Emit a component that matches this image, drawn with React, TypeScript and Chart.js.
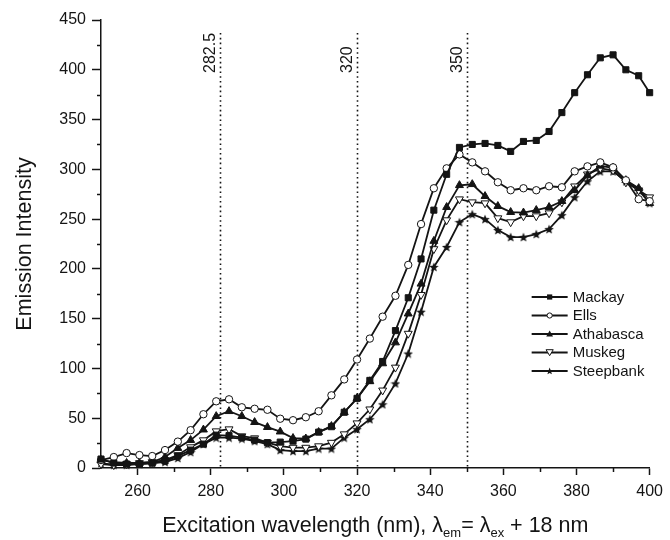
import React, { useEffect, useRef } from 'react';
import { Chart, registerables } from 'chart.js';

Chart.register(...registerables);

// ---------- data ----------
const wavelengths = [
  250, 253.5, 257, 260.5, 264, 267.5, 271, 274.5, 278, 281.5,
  285, 288.5, 292, 295.5, 299, 302.5, 306, 309.5, 313, 316.5,
  320, 323.5, 327, 330.5, 334, 337.5, 341, 344.5, 348, 351.5,
  355, 358.5, 362, 365.5, 369, 372.5, 376, 379.5, 383, 386.5,
  390, 393.5, 397, 400,
];

const mackay = [
  9, 5, 4, 4, 5, 7, 12, 18, 24, 33,
  32.5, 30.5, 28, 25.5, 26, 27, 29, 36, 41.5, 56,
  70, 88, 107, 138, 171, 210, 259, 295, 322, 325,
  326, 324, 318, 328, 329, 338, 357, 377, 395, 412,
  415, 400, 394, 377,
];

const ells = [
  8, 11, 15, 13, 12, 18, 26.5, 38, 54, 67,
  69, 61, 59.5, 58.5, 49.5, 48, 51, 57, 73, 89,
  109, 130, 152, 173, 204, 245, 281, 301, 315, 307,
  298, 287, 279, 281, 279, 283, 282, 298, 303, 307,
  302, 289, 270, 268,
];

const athabasca = [
  8, 6, 5, 5, 6, 11, 20, 28, 38.5, 52,
  57, 52, 46, 41, 36.5, 30, 29.5, 36, 42, 56,
  70, 87, 105, 126, 155, 185, 228, 262, 284, 285,
  273, 263, 257, 256.5, 259, 262, 268, 279, 294, 303.5,
  301.5, 289, 281, 266,
];

const muskeg = [
  4, 3, 4, 5, 6, 8, 13, 21, 28, 37,
  39, 32, 30, 25.5, 22, 20.5, 20.5, 22, 25.5, 34,
  45, 59, 78, 101, 135, 174, 220, 249, 270, 267,
  266, 251, 247, 253, 253, 256, 267, 283, 295, 301,
  299, 287, 279, 272,
];

const steepbank = [
  5, 3, 3, 4, 5, 6, 10, 16, 24, 30.5,
  30.5, 29.5, 27, 24, 18, 17, 17, 19.5, 19.5, 30.5,
  39, 49, 64, 85, 115, 157, 202, 222, 247, 255,
  250, 239, 232, 232, 235, 240, 254, 272, 288, 298,
  298, 288, 279, 266,
];

const seriesNames = ['Mackay', 'Ells', 'Athabasca', 'Muskeg', 'Steepbank'];

const xTickValues = [260, 280, 300, 320, 340, 360, 380, 400];
const xMinorTickValues = [270, 290, 310, 330, 350, 370, 390];
const yTickValues = [0, 50, 100, 150, 200, 250, 300, 350, 400, 450];
const yMinorTickValues = [25, 75, 125, 175, 225, 275, 325, 375, 425];

const refLineValues = [282.5, 320, 350];
const refLineLabels = ['282.5', '320', '350'];

const yTitle = 'Emission Intensity';
const xTitleParts: { text: string; sub: boolean }[] = [
  { text: 'Excitation wavelength (nm), λ', sub: false },
  { text: 'em', sub: true },
  { text: '= λ', sub: false },
  { text: 'ex', sub: true },
  { text: ' + 18 nm', sub: false },
];

// ---------- styling ----------
const INK = '#141414';
const FONT = '"Liberation Sans", Arial, Helvetica, sans-serif';

function starPath(ctx: CanvasRenderingContext2D, cx: number, cy: number, outer: number, inner: number) {
  ctx.beginPath();
  for (let i = 0; i < 10; i++) {
    const r = i % 2 === 0 ? outer : inner;
    const a = -Math.PI / 2 + (i * Math.PI) / 5;
    const px = cx + r * Math.cos(a);
    const py = cy + r * Math.sin(a);
    if (i === 0) ctx.moveTo(px, py);
    else ctx.lineTo(px, py);
  }
  ctx.closePath();
}

function makeStarCanvas(size: number) {
  const c = document.createElement('canvas');
  c.width = size;
  c.height = size;
  const ctx = c.getContext('2d')!;
  ctx.fillStyle = INK;
  starPath(ctx, size / 2, size / 2 + 0.5, size / 2, size / 4.6);
  ctx.fill();
  return c;
}

type MarkerKind = 'square' | 'circle' | 'triangle' | 'triangleDown' | 'star';
const markerKinds: MarkerKind[] = ['square', 'circle', 'triangle', 'triangleDown', 'star'];

function drawLegendMarker(ctx: CanvasRenderingContext2D, kind: MarkerKind, x: number, y: number) {
  ctx.save();
  ctx.lineWidth = 1;
  ctx.strokeStyle = INK;
  ctx.fillStyle = INK;
  if (kind === 'square') {
    ctx.fillRect(x - 2.6, y - 2.6, 5.2, 5.2);
  } else if (kind === 'circle') {
    ctx.beginPath();
    ctx.arc(x, y, 2.6, 0, Math.PI * 2);
    ctx.fillStyle = '#fff';
    ctx.fill();
    ctx.stroke();
  } else if (kind === 'triangle') {
    ctx.beginPath();
    ctx.moveTo(x, y - 3.4);
    ctx.lineTo(x + 3.4, y + 2.6);
    ctx.lineTo(x - 3.4, y + 2.6);
    ctx.closePath();
    ctx.fill();
  } else if (kind === 'triangleDown') {
    ctx.beginPath();
    ctx.moveTo(x, y + 3.2);
    ctx.lineTo(x + 3.6, y - 2.8);
    ctx.lineTo(x - 3.6, y - 2.8);
    ctx.closePath();
    ctx.fillStyle = '#fff';
    ctx.fill();
    ctx.stroke();
  } else {
    starPath(ctx, x, y + 0.3, 3.8, 1.6);
    ctx.fill();
  }
  ctx.restore();
}

const decorPlugin = {
  id: 'decor',
  beforeDatasetsDraw(chart: any) {
    const { ctx, chartArea, scales } = chart;
    const xs = scales.x;
    ctx.save();
    ctx.strokeStyle = INK;
    ctx.lineWidth = 1.6;
    ctx.setLineDash([1.6, 3.2]);
    refLineValues.forEach((v) => {
      const px = Math.round(xs.getPixelForValue(v)) + 0.5;
      ctx.beginPath();
      ctx.moveTo(px, chartArea.top + 13);
      ctx.lineTo(px, chartArea.bottom);
      ctx.stroke();
    });
    ctx.setLineDash([]);
    ctx.fillStyle = INK;
    ctx.font = `16px ${FONT}`;
    ctx.textAlign = 'left';
    ctx.textBaseline = 'alphabetic';
    refLineValues.forEach((v, i) => {
      const px = xs.getPixelForValue(v);
      ctx.save();
      ctx.translate(px - 5, chartArea.top + 53);
      ctx.rotate(-Math.PI / 2);
      ctx.fillText(refLineLabels[i], 0, 0);
      ctx.restore();
    });
    ctx.restore();
  },
  afterDraw(chart: any) {
    const { ctx, chartArea, scales } = chart;
    const xs = scales.x;
    const ys = scales.y;
    ctx.save();
    // minor ticks
    ctx.strokeStyle = INK;
    ctx.lineWidth = 1.5;
    xMinorTickValues.forEach((v) => {
      const px = Math.round(xs.getPixelForValue(v)) + 0.5;
      ctx.beginPath();
      ctx.moveTo(px, chartArea.bottom);
      ctx.lineTo(px, chartArea.bottom + 4);
      ctx.stroke();
    });
    yMinorTickValues.forEach((v) => {
      const py = Math.round(ys.getPixelForValue(v)) + 0.5;
      ctx.beginPath();
      ctx.moveTo(chartArea.left, py);
      ctx.lineTo(chartArea.left - 4, py);
      ctx.stroke();
    });

    // y title
    ctx.fillStyle = INK;
    ctx.font = `21.5px ${FONT}`;
    ctx.save();
    ctx.translate(25, (chartArea.top + chartArea.bottom) / 2);
    ctx.rotate(-Math.PI / 2);
    ctx.textAlign = 'center';
    ctx.textBaseline = 'middle';
    ctx.fillText(yTitle, 0, 0);
    ctx.restore();

    // x title with subscripts
    const mainFont = `21.5px ${FONT}`;
    const subFont = `13px ${FONT}`;
    let total = 0;
    const widths = xTitleParts.map((p) => {
      ctx.font = p.sub ? subFont : mainFont;
      const w = ctx.measureText(p.text).width;
      total += w;
      return w;
    });
    let cx = (chartArea.left + chartArea.right) / 2 - total / 2;
    const baseY = chartArea.bottom + 64;
    ctx.textAlign = 'left';
    ctx.textBaseline = 'alphabetic';
    xTitleParts.forEach((p, i) => {
      ctx.font = p.sub ? subFont : mainFont;
      ctx.fillText(p.text, cx, p.sub ? baseY + 5 : baseY);
      cx += widths[i];
    });

    // legend
    const lx0 = chartArea.right - 118;
    const lx1 = chartArea.right - 82;
    const ly0 = chartArea.top + 277;
    const rowH = 18.5;
    ctx.font = `15px ${FONT}`;
    ctx.textBaseline = 'middle';
    seriesNames.forEach((name, i) => {
      const y = ly0 + i * rowH;
      ctx.strokeStyle = INK;
      ctx.lineWidth = 2;
      ctx.beginPath();
      ctx.moveTo(lx0, y);
      ctx.lineTo(lx1, y);
      ctx.stroke();
      drawLegendMarker(ctx, markerKinds[i], (lx0 + lx1) / 2, y);
      ctx.fillStyle = INK;
      ctx.fillText(name, lx1 + 5, y + 0.5);
    });
    ctx.restore();
  },
};

export default function App() {
  const canvasRef = useRef<HTMLCanvasElement | null>(null);

  useEffect(() => {
    if (!canvasRef.current) return;
    const star = makeStarCanvas(10);
    const seriesValues = [mackay, ells, athabasca, muskeg, steepbank];
    const pointOpts: any[] = [
      { pointStyle: 'rect', pointRadius: 4.3, pointBackgroundColor: INK, pointRotation: 0 },
      { pointStyle: 'circle', pointRadius: 3.7, pointBackgroundColor: '#fff', pointRotation: 0 },
      { pointStyle: 'triangle', pointRadius: 4.6, pointBackgroundColor: INK, pointRotation: 0 },
      { pointStyle: 'triangle', pointRadius: 4.6, pointBackgroundColor: '#fff', pointRotation: 180 },
      { pointStyle: star, pointRadius: 5, pointBackgroundColor: INK, pointRotation: 0 },
    ];

    const datasets = seriesNames.map((name, i) => ({
      label: name,
      data: wavelengths.map((x, j) => ({ x, y: seriesValues[i][j] })),
      borderColor: INK,
      borderWidth: 1.8,
      tension: 0,
      pointBorderColor: INK,
      pointBorderWidth: 1,
      pointHoverRadius: 4,
      clip: false as any,
      ...pointOpts[i],
    }));

    const chart = new Chart(canvasRef.current, {
      type: 'line',
      data: { datasets },
      plugins: [decorPlugin],
      options: {
        animation: false,
        responsive: false,
        devicePixelRatio: 1,
        layout: { padding: { left: 0, right: 19, top: 20, bottom: 0 } },
        plugins: {
          legend: { display: false },
          tooltip: { enabled: false },
        },
        scales: {
          x: {
            type: 'linear',
            min: 250,
            max: 400,
            afterBuildTicks: (scale: any) => {
              scale.ticks = xTickValues.map((v) => ({ value: v }));
            },
            afterFit: (scale: any) => {
              scale.height = 72;
            },
            grid: {
              drawOnChartArea: false,
              drawTicks: true,
              tickLength: 7,
              tickColor: INK,
              tickWidth: 1.5,
            },
            border: { display: true, color: INK, width: 1.5 },
            ticks: {
              color: INK,
              font: { size: 16, family: FONT },
              padding: 7,
              maxRotation: 0,
              autoSkip: false,
              callback: (v: any) => String(v),
            },
          },
          y: {
            type: 'linear',
            min: 0,
            max: 450,
            afterBuildTicks: (scale: any) => {
              scale.ticks = yTickValues.map((v) => ({ value: v }));
            },
            afterFit: (scale: any) => {
              scale.width = 101;
            },
            grid: {
              drawOnChartArea: false,
              drawTicks: true,
              tickLength: 9,
              tickColor: INK,
              tickWidth: 1.5,
            },
            border: { display: true, color: INK, width: 1.5 },
            ticks: {
              color: INK,
              font: { size: 16, family: FONT },
              padding: 6,
              autoSkip: false,
              callback: (v: any) => String(v),
            },
          },
        },
      },
    });

    return () => chart.destroy();
  }, []);

  return (
    <div style={{ position: 'absolute', left: 0, top: 0, width: 670, height: 540, background: '#fff' }}>
      <canvas ref={canvasRef} width={670} height={540} />
    </div>
  );
}
